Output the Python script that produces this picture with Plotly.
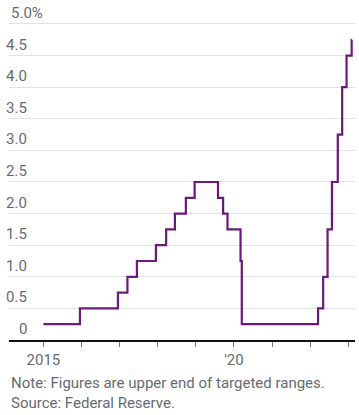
import plotly.graph_objects as go

# Federal funds target rate, upper end (%)
dates = ["2015-01-01", "2015-12-17", "2016-12-15", "2017-03-16", "2017-06-15",
         "2017-12-14", "2018-03-22", "2018-06-14", "2018-09-27", "2018-12-20",
         "2019-08-01", "2019-09-19", "2019-10-31", "2020-03-04", "2020-03-16",
         "2022-03-17", "2022-05-05", "2022-06-16", "2022-07-28", "2022-09-22",
         "2022-11-03", "2022-12-15", "2023-02-02", "2023-02-03"]
rates = [0.25, 0.50, 0.75, 1.00, 1.25,
         1.50, 1.75, 2.00, 2.25, 2.50,
         2.25, 2.00, 1.75, 1.25, 0.25,
         0.50, 1.00, 1.75, 2.50, 3.25,
         4.00, 4.50, 4.75, 4.75]

y_tickvals = [0, 0.5, 1.0, 1.5, 2.0, 2.5, 3.0, 3.5, 4.0, 4.5, 5.0]
y_ticktext = ["0", "0.5", "1.0", "1.5", "2.0", "2.5", "3.0", "3.5", "4.0", "4.5", "5.0%"]
x_tickvals = [f"{y}-01-01" for y in range(2015, 2024)]
x_ticktext = ["2015", "", "", "", "", "'20", "", "", ""]

FONT = "Roboto"
GRAY = "#666a70"

fig = go.Figure()
fig.add_trace(go.Scatter(
    x=dates, y=rates, mode="lines",
    line=dict(color="#6b1a7b", width=2.2, shape="hv"),
    hoverinfo="skip", showlegend=False,
))

ML, MR, MT, MB = 9, 4, 5, 75
W, H = 359, 415
PLOT_W = W - ML - MR
PLOT_H = H - MT - MB
LABEL_RIGHT = (29 - ML) / PLOT_W  # right edge of y labels, paper units

annotations = []
for v, t in zip(y_tickvals, y_ticktext):
    if t.endswith("%"):
        annotations.append(dict(xref="paper", yref="y", x=0, y=v, xanchor="left",
                                yanchor="bottom", yshift=0, text=t, showarrow=False,
                                font=dict(family=FONT, size=15, color=GRAY)))
    else:
        annotations.append(dict(xref="paper", yref="y", x=LABEL_RIGHT, y=v, xanchor="right",
                                yanchor="bottom", yshift=0, text=t, showarrow=False,
                                font=dict(family=FONT, size=15, color=GRAY)))

annotations += [
    dict(xref="paper", yref="paper", x=0, y=-43 / PLOT_H, xanchor="left", yanchor="middle",
         text="Note: Figures are upper end of targeted ranges.",
         showarrow=False, font=dict(family=FONT, size=15, color=GRAY), align="left"),
    dict(xref="paper", yref="paper", x=0, y=-63 / PLOT_H, xanchor="left", yanchor="middle",
         text="Source: Federal Reserve.",
         showarrow=False, font=dict(family=FONT, size=15, color=GRAY), align="left"),
]

fig.update_layout(
    template="none",
    width=W, height=H,
    margin=dict(l=ML, r=MR, t=MT, b=MB),
    paper_bgcolor="white", plot_bgcolor="white",
    font=dict(family=FONT, color=GRAY, size=15),
    xaxis=dict(
        type="date", range=["2014-02-05", "2023-03-06"],
        tickvals=x_tickvals, ticktext=x_ticktext,
        ticks="outside", ticklen=5, tickwidth=1, tickcolor="#777777",
        showline=True, linecolor="#111111", linewidth=1.5,
        showgrid=False, zeroline=False, automargin=False,
        tickfont=dict(family=FONT, size=15, color=GRAY),
        fixedrange=True,
    ),
    yaxis=dict(
        range=[0, 5.3],
        tickvals=y_tickvals, showticklabels=False,
        showgrid=True, gridcolor="#e2e2e2", gridwidth=1.2,
        zeroline=False, showline=False, ticks="", automargin=False,
        fixedrange=True,
    ),
    annotations=annotations,
)

fig.write_html(
    "out.html",
    config={"displayModeBar": False},
    post_script="document.body.style.margin='0';document.body.style.overflow='hidden';",
)
